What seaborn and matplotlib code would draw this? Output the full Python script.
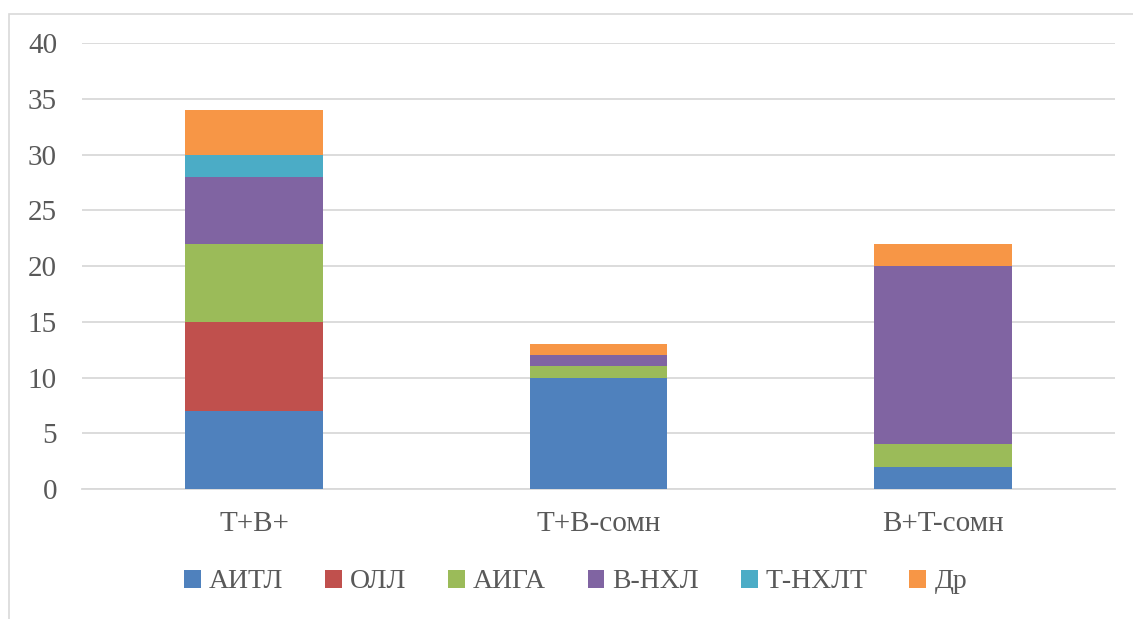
import matplotlib
matplotlib.use("Agg")
import matplotlib.pyplot as plt
from matplotlib.patches import Rectangle, Patch
import numpy as np
import pandas as pd
import seaborn as sns

# Groups and diagnosis counts
groups = ["T+B+", "T+B-сомн", "B+T-сомн"]
aitl = [7, 10, 2]
oll = [8, 0, 0]
aiga = [7, 1, 2]
bnhl = [6, 1, 16]
tnhlt = [2, 0, 0]
other = [4, 1, 2]

series_names = ["АИТЛ", "ОЛЛ", "АИГА", "В-НХЛ", "Т-НХЛТ", "Др"]
series_values = [aitl, oll, aiga, bnhl, tnhlt, other]
colors = ["#4F81BD", "#C0504D", "#9BBB59", "#8064A2", "#4BACC6", "#F79646"]
y_ticks = [0, 5, 10, 15, 20, 25, 30, 35, 40]

sns.set_theme(style="white")
plt.rcParams["font.family"] = ["Liberation Serif", "DejaVu Serif"]

fig = plt.figure(figsize=(11.33, 6.19), dpi=100)
ax = fig.add_axes([0.0724, 0.21, 0.9116, 0.7205])

text_color = "#595959"
grid_color = "#D9D9D9"

bottom = np.zeros(len(groups))
for name, vals, col in zip(series_names, series_values, colors):
    df = pd.DataFrame({"group": groups, "value": vals})
    sns.barplot(data=df, x="group", y="value", order=groups, color=col,
                bottom=bottom, width=0.4, linewidth=0, saturation=1,
                errorbar=None, ax=ax, zorder=3)
    bottom = bottom + np.array(vals)

ax.set_ylim(0, 40)
ax.set_xlim(-0.5, 2.5)
ax.set_yticks(y_ticks)
ax.yaxis.grid(True, color=grid_color, linewidth=1.3, zorder=0)
ax.set_axisbelow(True)
for s in ["top", "right", "left"]:
    ax.spines[s].set_visible(False)
ax.spines["bottom"].set_color(grid_color)
ax.spines["bottom"].set_linewidth(1.3)
ax.set_xlabel("")
ax.set_ylabel("")
ax.tick_params(axis="both", length=0, labelsize=21, labelcolor=text_color)
ax.tick_params(axis="y", pad=18)
ax.tick_params(axis="x", pad=16)

handles = [Patch(facecolor=c, edgecolor="none") for c in colors]
fig.legend(handles, series_names, loc="center", ncol=6,
           bbox_to_anchor=(0.508, 1 - 582 / 619), frameon=False,
           fontsize=20, labelcolor=text_color, handlelength=0.6,
           handleheight=0.6, handletextpad=0.3, columnspacing=1.5)

# Chart-area frame
fig.add_artist(Rectangle((9 / 1133, -0.01), 1.0, 1 - 14 / 619 + 0.01,
                         transform=fig.transFigure, fill=False,
                         edgecolor=grid_color, linewidth=1.2))

fig.savefig("out.png", dpi=100)
